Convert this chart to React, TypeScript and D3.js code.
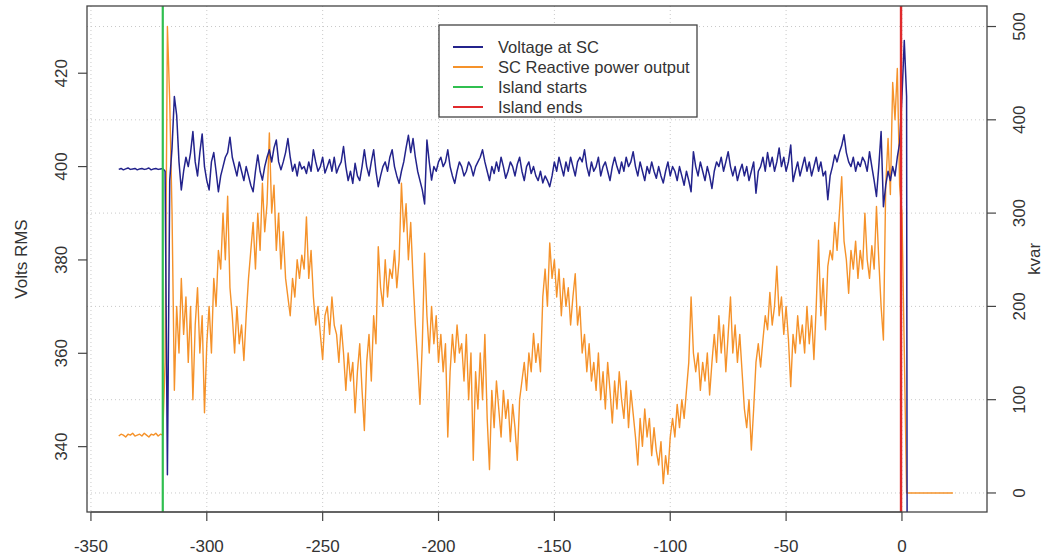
import React from 'react';
import * as d3 from 'd3';

// ---- axis ticks & labels ----
const xTicks = [-350, -300, -250, -200, -150, -100, -50, 0];
const voltTicks = [340, 360, 380, 400, 420];
const kvarTicks = [0, 100, 200, 300, 400, 500];
const legendLabels = ['Voltage at SC', 'SC Reactive power output', 'Island starts', 'Island ends'];
const seriesColors = ['#23238c', '#f5922a', '#30bf50', '#e02a2c'];

// ---- events (seconds) ----
const islandStart = -319;
const islandEnd = -0.4;

// ---- data: 1-second samples ----
const preStart = -338; // before island
const voltagePre = [399.4, 399.6, 399.3, 399.5, 399.7, 399.4, 399.5, 399.6, 399.3, 399.5,
  399.6, 399.4, 399.5, 399.7, 399.3, 399.5, 399.6, 399.4, 399.5, 399.6];
const kvarPre = [61, 63, 62, 60, 63, 62, 64, 61, 62, 63, 61, 64, 62, 60, 63, 62, 64, 61, 63, 62];

const mainStart = -318;
const voltage = [
  399, 334, 397, 404, 415, 411, 401, 395, 399, 402, // -318
  400, 403, 407.5, 401, 398, 403, 407, 400, 397, 395, // -308
  401, 403, 399, 394.6, 398, 400, 402, 403, 406.3, 402, // -298
  400, 398, 401, 399, 397, 400, 398, 396, 394.6, 399, // -288
  402.5, 399, 397.1, 400, 402, 403.6, 401, 404, 405.7, 401, // -278
  399.3, 401, 403, 406, 402, 399, 400.5, 398, 401, 399.5, // -268
  400, 398.5, 401, 399, 403.6, 401, 399, 400, 402, 398.6, // -258
  400, 401.5, 399, 402, 398.6, 400, 401, 404.3, 400, 397, // -248
  399, 396.4, 400.7, 398, 397, 400, 403.6, 400, 398, 401, // -238
  403.6, 399, 395.7, 398, 400, 401, 399, 402, 403.6, 400, // -228
  398, 396.4, 399, 401, 404, 406.7, 403, 406, 402, 399, // -218
  397, 395, 392, 405.7, 401, 397.1, 400, 399, 401, 402, // -208
  400, 401, 403.6, 400, 398, 396.4, 399, 401, 400, 398, // -198
  399, 401, 400, 398, 400, 401, 402, 403.6, 401, 399, // -188
  397, 400, 398.5, 401, 399, 402, 400, 397.5, 399, 401, // -178
  400, 398, 400.5, 402, 399, 397, 400, 401, 398.5, 400, // -168
  398, 397, 399, 396.5, 398, 397, 395.7, 398, 401, 399, // -158
  402, 400, 398, 401, 399, 402, 400, 398, 401, 402, // -148
  401, 403.6, 400, 398, 401, 399, 400, 402, 398, 400, // -138
  401, 399, 397, 400, 402, 400, 398.5, 401, 399, 402, // -128
  400, 401, 403.2, 400, 398, 401, 399, 397, 400, 398.5, // -118
  401, 399, 397.5, 400, 398, 396.5, 399, 401, 398, 400, // -108
  399, 397, 400, 398, 396, 399, 397, 394.6, 403.2, 400, // -98
  398, 401, 399, 397, 400, 398, 395.3, 399, 401, 400, // -88
  402, 399, 401, 403.2, 400, 398, 400, 397, 399, 400.5, // -78
  398, 400, 397, 399, 401, 394.3, 399, 400, 402, 399, // -68
  403, 400, 402, 399, 401, 404, 400, 402, 399, 401, // -58
  404.6, 396.8, 399, 401, 398, 400, 402, 399, 401, 398, // -48
  400, 402, 399, 401, 398, 399, 392.9, 398, 400, 402.5, // -38
  401, 403, 404.5, 406.8, 403, 401, 400, 402, 399, 401, // -28
  400, 402, 401, 399, 403.2, 400, 397, 393.6, 400, 407.5, // -18
  391.4, 396, 399, 397, 400, 398, 402, 405, 415, 427, 415, 0, // -8 .. 3
];
const kvar = [
  140, 500, 420, 300, 110, 200, 150, 230, 170, 210, // -318
  140, 200, 100, 180, 220, 150, 190, 86, 160, 200, // -308
  150, 230, 200, 260, 240, 300, 250, 318, 220, 190, // -298
  150, 200, 160, 180, 142, 190, 230, 260, 290, 240, // -288
  300, 260, 332, 280, 310, 386, 300, 330, 260, 300, // -278
  240, 280, 230, 210, 190, 230, 210, 250, 230, 255, // -268
  240, 296, 230, 260, 210, 180, 200, 170, 143, 190, // -258
  200, 170, 210, 180, 170, 140, 180, 150, 110, 150, // -248
  120, 140, 86, 130, 160, 110, 67, 140, 170, 120, // -238
  190, 160, 264, 220, 200, 250, 210, 240, 230, 260, // -228
  220, 250, 332, 280, 310, 250, 290, 230, 180, 140, // -218
  95, 160, 257, 190, 150, 200, 160, 190, 140, 170, // -208
  130, 160, 60, 130, 170, 140, 180, 150, 160, 120, // -198
  170, 100, 150, 35, 130, 90, 150, 100, 170, 80, // -188
  25, 110, 70, 120, 90, 60, 110, 80, 100, 55, // -178
  95, 70, 35, 100, 120, 140, 110, 150, 130, 171, // -168
  140, 160, 130, 210, 240, 200, 268, 230, 250, 210, // -158
  240, 190, 230, 200, 220, 180, 210, 235, 180, 200, // -148
  150, 170, 130, 160, 120, 140, 110, 150, 100, 130, // -138
  90, 140, 110, 75, 120, 90, 130, 100, 80, 120, // -128
  70, 110, 85, 60, 30, 80, 50, 90, 60, 80, // -118
  40, 70, 45, 30, 55, 10, 40, 20, 60, 80, // -108
  60, 95, 70, 100, 80, 110, 140, 210, 150, 130, // -98
  150, 110, 140, 120, 150, 105, 140, 170, 140, 190, // -88
  150, 180, 130, 170, 210, 150, 180, 140, 170, 130, // -78
  90, 70, 100, 46, 90, 140, 160, 135, 164, 190, // -68
  175, 215, 180, 200, 243, 190, 210, 170, 200, 165, // -58
  114, 170, 150, 190, 160, 180, 150, 200, 160, 190, // -48
  143, 200, 271, 190, 230, 175, 243, 260, 250, 290, // -38
  260, 300, 339, 270, 250, 214, 260, 240, 270, 230, // -28
  260, 240, 300, 250, 230, 265, 240, 307, 250, 200, // -18
  164, 330, 380, 320, 440, 400, 455, 330, 300, 153, 0, // -8 .. 2
];
const postStart = 3; // after island
const kvarPost = [0, 0, 0, 0, 0, 0, 0, 0, 0, 0, 0, 0, 0, 0, 0, 0, 0, 0, 0, 0];

const FONT = 'Liberation Sans, Arial, Helvetica, sans-serif';

export default function App() {
  const W = 1046, H = 556;
  const L = 87, R = 987, T = 6, B = 512;
  const x = d3.scaleLinear().domain([-351.7, 36.7]).range([L, R]);
  const yL = d3.scaleLinear().domain([326.0, 434.4]).range([B, T]);
  const yR = d3.scaleLinear().domain([-20.4, 522]).range([B, T]);

  const vPts: [number, number][] = [
    ...voltagePre.map((v, i) => [preStart + i, v] as [number, number]),
    ...voltage.map((v, i) => [mainStart + i, v] as [number, number]),
  ];
  const kPts: [number, number][] = [
    ...kvarPre.map((v, i) => [preStart + i, v] as [number, number]),
    ...kvar.map((v, i) => [mainStart + i, v] as [number, number]),
    ...kvarPost.map((v, i) => [postStart + i, v] as [number, number]),
  ];
  const vLine = d3.line<[number, number]>().x(d => x(d[0])).y(d => yL(d[1]));
  const kLine = d3.line<[number, number]>().x(d => x(d[0])).y(d => yR(d[1]));

  const axisColor = '#444';
  const textColor = '#333';
  const gridColor = '#c9c9c9';

  const legX = 439, legY = 25, legW = 258, legH = 92;

  return (
    <svg width={W} height={H} style={{ position: 'absolute', left: 0, top: 0, background: '#fff' }}
      fontFamily={FONT}>
      <defs>
        <clipPath id="plotClip">
          <rect x={L} y={T} width={R - L} height={B - T} />
        </clipPath>
      </defs>
      <rect x={0} y={0} width={W} height={H} fill="#fff" />

      {/* grid */}
      <g stroke={gridColor} strokeWidth={1} strokeDasharray="1 3">
        {xTicks.map(t => (
          <line key={'gx' + t} x1={x(t)} x2={x(t)} y1={T} y2={B} />
        ))}
        {kvarTicks.map(t => (
          <line key={'gy' + t} x1={L} x2={R} y1={yR(t)} y2={yR(t)} />
        ))}
      </g>

      {/* data */}
      <g clipPath="url(#plotClip)" fill="none">
        <path d={kLine(kPts) || ''} stroke={seriesColors[1]} strokeWidth={1.4} strokeLinejoin="round" />
        <path d={vLine(vPts) || ''} stroke={seriesColors[0]} strokeWidth={1.5} strokeLinejoin="round" />
        <line x1={x(islandStart)} x2={x(islandStart)} y1={T} y2={B} stroke={seriesColors[2]} strokeWidth={2.2} />
        <line x1={x(islandEnd)} x2={x(islandEnd)} y1={T} y2={B} stroke={seriesColors[3]} strokeWidth={2.4} />
      </g>

      {/* box */}
      <rect x={L} y={T} width={R - L} height={B - T} fill="none" stroke={axisColor} strokeWidth={1.3} />

      {/* x axis */}
      <g stroke={axisColor} strokeWidth={1.2}>
        <line x1={x(xTicks[0])} x2={x(xTicks[xTicks.length - 1])} y1={B} y2={B} />
        {xTicks.map(t => <line key={'xt' + t} x1={x(t)} x2={x(t)} y1={B} y2={B + 9} />)}
      </g>
      <g fill={textColor} fontSize={17} textAnchor="middle">
        {xTicks.map(t => <text key={'xl' + t} x={x(t)} y={552}>{t}</text>)}
      </g>

      {/* left axis */}
      <g stroke={axisColor} strokeWidth={1.2}>
        {voltTicks.map(t => <line key={'lt' + t} x1={L - 9} x2={L} y1={yL(t)} y2={yL(t)} />)}
      </g>
      <g fill={textColor} fontSize={17} textAnchor="middle">
        {voltTicks.map(t => (
          <text key={'ll' + t} transform={`translate(67,${yL(t)}) rotate(-90)`}>{t}</text>
        ))}
        <text transform={`translate(27,${(T + B) / 2}) rotate(-90)`} fontSize={17}>Volts RMS</text>
      </g>

      {/* right axis */}
      <g stroke={axisColor} strokeWidth={1.2}>
        {kvarTicks.map(t => <line key={'rt' + t} x1={R} x2={R + 9} y1={yR(t)} y2={yR(t)} />)}
      </g>
      <g fill={textColor} fontSize={17} textAnchor="middle">
        {kvarTicks.map(t => (
          <text key={'rl' + t} transform={`translate(1025,${yR(t)}) rotate(-90)`}>{t}</text>
        ))}
        <text transform={`translate(1040,${(T + B) / 2}) rotate(-90)`} fontSize={17}>kvar</text>
      </g>

      {/* legend */}
      <g>
        <rect x={legX} y={legY} width={legW} height={legH} fill="#fff" stroke={axisColor} strokeWidth={1.3} />
        {legendLabels.map((lab, i) => {
          const yy = legY + 22 + i * 20;
          return (
            <g key={lab}>
              <line x1={legX + 14} x2={legX + 44} y1={yy} y2={yy} stroke={seriesColors[i]} strokeWidth={2} />
              <text x={legX + 59} y={yy} dy="0.35em" fontSize={16.5} fill={textColor}>{lab}</text>
            </g>
          );
        })}
      </g>
    </svg>
  );
}
